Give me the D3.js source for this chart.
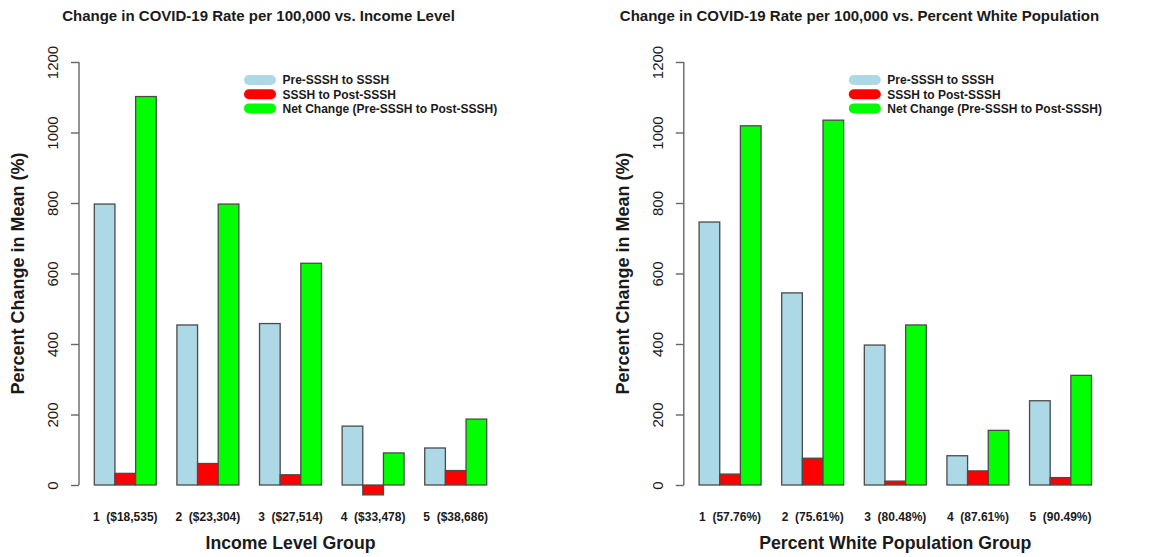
<!DOCTYPE html>
<html>
<head>
<meta charset="utf-8">
<script src="https://cdn.jsdelivr.net/npm/d3@7"></script>
<style>
  html, body { margin: 0; padding: 0; background: #fff; }
  svg { display: block; font-family: "Liberation Sans", Arial, sans-serif; }
</style>
</head>
<body>
<svg id="chart" width="1172" height="557"></svg>
<script>
// Series labels and colours shared by both panels
const seriesNames = ["Pre-SSSH to SSSH", "SSSH to Post-SSSH", "Net Change (Pre-SSSH to Post-SSSH)"];
const seriesColors = ["#ADD8E6", "#FF0000", "#00FF00"];

// Panel 1: income level groups
const incomeGroups = ["1  ($18,535)", "2  ($23,304)", "3  ($27,514)", "4  ($33,478)", "5  ($38,686)"];
const incomePreToDuring = [797, 454, 458, 167, 105];
const incomeDuringToPost = [33, 61, 29, -28, 41];
const incomeNet = [1102, 797, 629, 91, 187];

// Panel 2: percent white population groups
const whiteGroups = ["1  (57.76%)", "2  (75.61%)", "3  (80.48%)", "4  (87.61%)", "5  (90.49%)"];
const whitePreToDuring = [746, 545, 397, 83, 239];
const whiteDuringToPost = [31, 76, 11, 40, 21];
const whiteNet = [1019, 1035, 454, 155, 311];

const yTicks = [0, 200, 400, 600, 800, 1000, 1200];

const panels = [
  {
    title: "Change in COVID-19 Rate per 100,000 vs. Income Level",
    titleX: 258.5,
    xLabel: "Income Level Group",
    groups: incomeGroups,
    series: [incomePreToDuring, incomeDuringToPost, incomeNet],
    offset: 0
  },
  {
    title: "Change in COVID-19 Rate per 100,000 vs. Percent White Population",
    titleX: 859.5,
    xLabel: "Percent White Population Group",
    groups: whiteGroups,
    series: [whitePreToDuring, whiteDuringToPost, whiteNet],
    offset: 604.8
  }
];

const svg = d3.select("#chart");
svg.append("rect").attr("width", 1172).attr("height", 557).attr("fill", "#fff");

const font = "'Liberation Sans', Arial, sans-serif";

panels.forEach(p => {
  const g = svg.append("g").attr("transform", `translate(${p.offset},0)`);

  // Bar layout in units: each group is a 1-unit gap followed by 3 bars of width 1
  const nUnits = p.groups.length * 4;
  const x = d3.scaleLinear().domain([0.24, nUnits + 0.76]).range([78.6, 502.4]);
  const y = d3.scaleLinear().domain([0, 1200]).range([485, 62]);

  // Bars
  p.groups.forEach((grp, i) => {
    p.series.forEach((vals, j) => {
      const v = vals[i];
      const u = 1 + 4 * i + j;
      g.append("rect")
        .attr("x", x(u))
        .attr("width", x(u + 1) - x(u))
        .attr("y", y(Math.max(0, v)))
        .attr("height", Math.abs(y(v) - y(0)))
        .attr("fill", seriesColors[j])
        .attr("stroke", "#4a4a4a")
        .attr("stroke-width", 1.3);
    });
    // Group label under each cluster
    g.append("text")
      .attr("x", x(1 + 4 * i + 1.5))
      .attr("y", 521)
      .attr("text-anchor", "middle")
      .attr("font-size", 12)
      .attr("font-weight", "bold")
      .attr("fill", "#1a1a1a")
      .style("white-space", "pre")
      .text(grp);
  });

  // Y axis
  const axis = d3.axisLeft(y).tickValues(yTicks).tickSize(8).tickFormat(d3.format("d"));
  const ag = g.append("g").attr("transform", "translate(79,0)").call(axis);
  ag.select(".domain").attr("stroke", "#666").attr("stroke-width", 1.4)
    .attr("d", `M0,${y(1200)}V${y(0)}`);
  ag.selectAll(".tick line").attr("stroke", "#666").attr("stroke-width", 1.4);
  ag.selectAll(".tick text")
    .attr("x", null).attr("dy", null)
    .attr("transform", "translate(-21,0) rotate(-90)")
    .attr("text-anchor", "middle")
    .attr("font-size", 15)
    .attr("font-family", font)
    .attr("fill", "#1a1a1a");

  // Y axis title
  g.append("text")
    .attr("transform", `translate(24,${(y(0) + y(1200)) / 2}) rotate(-90)`)
    .attr("text-anchor", "middle")
    .attr("font-size", 18)
    .attr("font-weight", "bold")
    .attr("fill", "#1a1a1a")
    .text("Percent Change in Mean (%)");

  // X axis title
  g.append("text")
    .attr("x", (x.range()[0] + x.range()[1]) / 2)
    .attr("y", 549)
    .attr("text-anchor", "middle")
    .attr("font-size", 17.7)
    .attr("font-weight", "bold")
    .attr("fill", "#1a1a1a")
    .text(p.xLabel);

  // Legend
  const lg = g.append("g").attr("transform", "translate(244,80)");
  seriesNames.forEach((name, j) => {
    const row = lg.append("g").attr("transform", `translate(0,${j * 14.2})`);
    row.append("line")
      .attr("x1", 5).attr("x2", 27).attr("y1", 0).attr("y2", 0)
      .attr("stroke", seriesColors[j])
      .attr("stroke-width", 10)
      .attr("stroke-linecap", "round");
    row.append("text")
      .attr("x", 38.5).attr("y", 4.3)
      .attr("font-size", 12)
      .attr("font-weight", "bold")
      .attr("fill", "#1a1a1a")
      .text(name);
  });

  // Title
  svg.append("text")
    .attr("x", p.titleX)
    .attr("y", 20.5)
    .attr("text-anchor", "middle")
    .attr("font-size", 15)
    .attr("font-weight", "bold")
    .attr("fill", "#1a1a1a")
    .text(p.title);
});
</script>
</body>
</html>
